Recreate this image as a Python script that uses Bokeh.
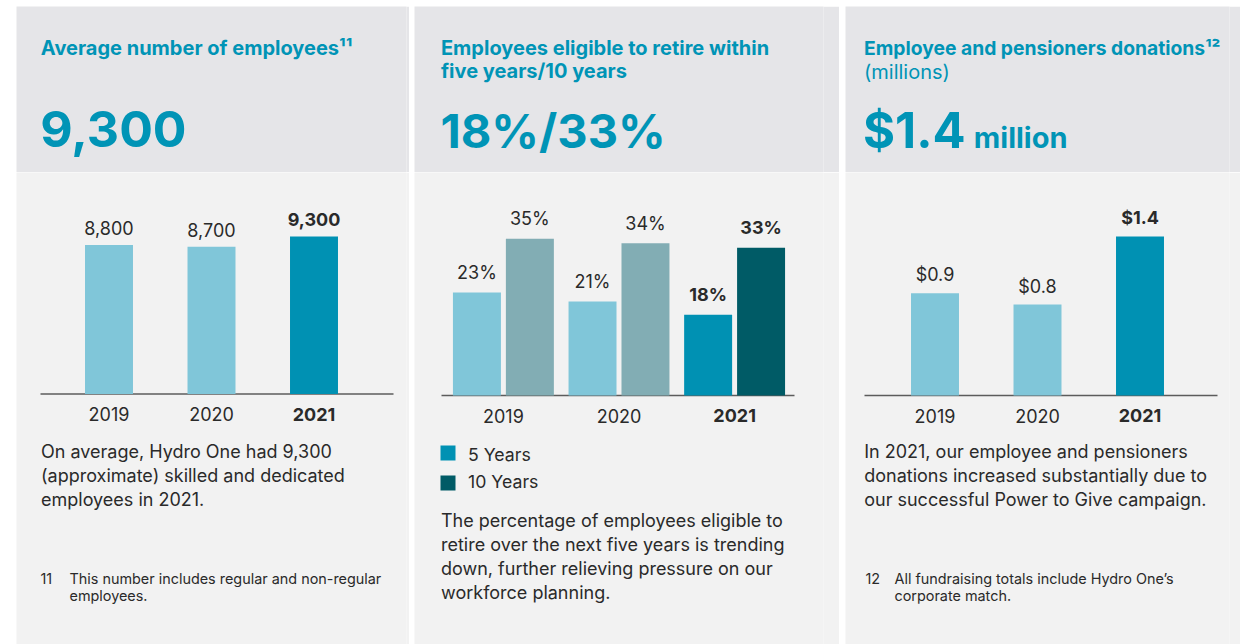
from bokeh.plotting import figure
from bokeh.models import Range1d, FactorRange, ColumnDataSource, Label, Spacer
from bokeh.layouts import row, column
from bokeh.transform import dodge
from bokeh.core.properties import value
from bokeh.embed import file_html
from bokeh.resources import INLINE

# ---------------- data ----------------
years = ["2019", "2020", "2021"]
highlight_year = "2021"
employees = [8800, 8700, 9300]
retire_5yr = [23, 21, 18]
retire_10yr = [35, 34, 33]
donations = [0.9, 0.8, 1.4]

# ---------------- style ----------------
FONT = "Inter"
MID_K = 0.363          # em-box middle above the baseline (Inter)
TEAL = "#0094b6"
DARK = "#2a2a2a"
HEAD_BG = "#e5e5e8"
BODY_BG = "#f2f2f2"
LIGHT = "#80c6d9"
MAIN = "#0091b3"
GREYTEAL = "#82adb4"
DEEP = "#005b66"
AXIS = "#5c5c5c"

TOP, MID, BOT = 6, 172, 644   # layout rows (reference pixel grid)


def ident(v):
    return v


def label(p, x, base, text, size, color=DARK, style="normal", align="left", Y=ident):
    p.add_layout(Label(x=x, y=Y(base - MID_K * size), text=text, text_font=FONT,
                       text_font_size=f"{size}px", text_color=color, text_font_style=style,
                       text_align=align, text_baseline="middle"))


def header(x0, x1):
    p = figure(width=x1 - x0, height=MID - TOP, x_range=Range1d(x0, x1), y_range=Range1d(MID, TOP),
               x_axis_type=None, y_axis_type=None, toolbar_location=None, output_backend="svg",
               min_border=0, background_fill_color=HEAD_BG, border_fill_color=HEAD_BG,
               outline_line_color=None)
    p.title.visible = False
    return p


def body(x0, x1, frame_right, base_y, px_per_unit, cat_px):
    fw = frame_right - x0
    n = len(years)
    span = fw / cat_px
    start = -(span - n) / 2
    cat = FactorRange(factors=years, range_padding=(span - n) / n, range_padding_units="percent")
    p = figure(width=x1 - x0, height=BOT - MID, x_range=cat,
               y_range=Range1d(start=-(BOT - base_y) / px_per_unit, end=(base_y - MID) / px_per_unit),
               x_axis_type=None, y_axis_type=None,
               toolbar_location=None, output_backend="svg", min_border=0,
               min_border_right=x1 - frame_right, background_fill_color=BODY_BG,
               border_fill_color=BODY_BG, outline_line_color=None)
    p.title.visible = False

    def X(rx):
        return start + (rx - x0) / cat_px

    def Y(ry):
        return (base_y - ry) / px_per_unit
    return p, cat, X, Y


def styles():
    return ["bold" if y == highlight_year else "normal" for y in years]


VAL_SIZE = 18
YEAR_SIZE = 18


def year_labels(p):
    src = ColumnDataSource(dict(year=years, style=styles()))
    p.text(x="year", y=0, text="year", source=src,
           y_offset=27 - MID_K * YEAR_SIZE, text_align="center", text_baseline="middle",
           text_font=value(FONT), text_font_size=f"{YEAR_SIZE}px", text_font_style="style",
           text_color=DARK)


def value_labels(p, x, top, text, src, gap):
    p.text(x=x, y=top, text=text, source=src,
           y_offset=-(gap + MID_K * VAL_SIZE), text_align="center", text_baseline="middle",
           text_font=value(FONT), text_font_size=f"{VAL_SIZE}px", text_font_style="style",
           text_color=DARK)


def baseline(p, X, xa, xb):
    p.segment(x0=[X(xa)], x1=[X(xb)], y0=[0], y1=[0], line_color=AXIS, line_width=1.5)


BODY_SIZE = 18
NOTE_SIZE = 14.4
TITLE_SIZE = 20

# ---------------- panel 1 ----------------
h1 = header(16, 409)
label(h1, 40.5, 54.5, "Average number of employees\u00b9\u00b9", TITLE_SIZE, TEAL, "bold")
label(h1, 40, 147, f"{employees[-1]:,}", 50, TEAL, "bold")

b1, cat1, X1, Y1 = body(16, 409, 406, 393.5, 157.5 / 9300, 102.5)
src1 = ColumnDataSource(dict(
    year=years, value=employees, label=[f"{v:,}" for v in employees],
    color=[MAIN if y == highlight_year else LIGHT for y in years], style=styles()))
baseline(b1, X1, 40, 393)
b1.vbar(x="year", top="value", bottom=0, width=0.468, source=src1,
        fill_color="color", line_color=None)
value_labels(b1, "year", "value", "label", src1, 10)
year_labels(b1)
for i, line in enumerate(["On average, Hydro One had 9,300",
                          "(approximate) skilled and dedicated",
                          "employees in 2021."]):
    label(b1, X1(40.5), 458 + 24 * i, line, BODY_SIZE, Y=Y1)
label(b1, X1(40), 583, "11", NOTE_SIZE, Y=Y1)
for i, line in enumerate(["This number includes regular and non-regular", "employees."]):
    label(b1, X1(69), 583 + 17 * i, line, NOTE_SIZE, Y=Y1)

# ---------------- panel 2 ----------------
h2 = header(414, 839)
label(h2, 441.5, 54.3, "Employees eligible to retire within", TITLE_SIZE, TEAL, "bold")
label(h2, 441.5, 77.5, "five years/10 years", TITLE_SIZE, TEAL, "bold")
label(h2, 441, 147.5, f"{retire_5yr[-1]}%/{retire_10yr[-1]}%", 47, TEAL, "bold")

b2, cat2, X2, Y2 = body(414, 839, 823, 395, 4.48, 115.6)
src2 = ColumnDataSource(dict(
    year=years, five=retire_5yr, ten=retire_10yr,
    five_label=[f"{v}%" for v in retire_5yr], ten_label=[f"{v}%" for v in retire_10yr],
    five_color=[MAIN if y == highlight_year else LIGHT for y in years],
    ten_color=[DEEP if y == highlight_year else GREYTEAL for y in years],
    style=styles()))
baseline(b2, X2, 441, 794)
for key, off in (("five", -0.229), ("ten", 0.229)):
    xs = dodge("year", off, range=cat2)
    b2.vbar(x=xs, top=key, bottom=0, width=0.415, source=src2,
            fill_color=f"{key}_color", line_color=None)
    value_labels(b2, xs, key, f"{key}_label", src2, 13.5)
year_labels(b2)
b2.quad(left=[X2(440), X2(440)], right=[X2(455), X2(455)], top=[Y2(445), Y2(475)],
        bottom=[Y2(460), Y2(490)], fill_color=[MAIN, DEEP], line_color=None)
label(b2, X2(467.5), 460.6, "5 Years", 17.7, Y=Y2)
label(b2, X2(467.5), 487.4, "10 Years", 17.7, Y=Y2)
for i, line in enumerate(["The percentage of employees eligible to",
                          "retire over the next five years is trending",
                          "down, further relieving pressure on our",
                          "workforce planning."]):
    label(b2, X2(440.5), 526.7 + 23.8 * i, line, BODY_SIZE, Y=Y2)

# ---------------- panel 3 ----------------
h3 = header(844, 1239)
label(h3, 863, 55, "Employee and pensioners donations\u00b9\u00b2", 19.3, TEAL, "bold")
label(h3, 863, 78.5, "(millions)", TITLE_SIZE, TEAL, "normal")
label(h3, 862, 147.5, f"${donations[-1]}", 49, TEAL, "bold")
label(h3, 976, 147.5, "million", 29, TEAL, "bold")

b3, cat3, X3, Y3 = body(844, 1239, 1228, 395, 113.6, 102.5)
src3 = ColumnDataSource(dict(
    year=years, value=donations, label=[f"${v:.1f}" for v in donations],
    color=[MAIN if y == highlight_year else LIGHT for y in years], style=styles()))
baseline(b3, X3, 863, 1216)
b3.vbar(x="year", top="value", bottom=0, width=0.468, source=src3,
        fill_color="color", line_color=None)
value_labels(b3, "year", "value", "label", src3, 12)
year_labels(b3)
for i, line in enumerate(["In 2021, our employee and pensioners",
                          "donations increased substantially due to",
                          "our successful Power to Give campaign."]):
    label(b3, X3(862.7), 458 + 24 * i, line, BODY_SIZE, Y=Y3)
label(b3, X3(864), 583, "12", NOTE_SIZE, Y=Y3)
for i, line in enumerate(["All fundraising totals include Hydro One\u2019s", "corporate match."]):
    label(b3, X3(893), 583 + 17 * i, line, NOTE_SIZE, Y=Y3)

H = BOT - TOP
panels = row(Spacer(width=16, height=H), column(h1, b1), Spacer(width=5, height=H),
             column(h2, b2), Spacer(width=6, height=H), column(h3, b3))
layout = column(Spacer(width=1232, height=TOP), panels)

open("out.html", "w").write(file_html(layout, INLINE))
